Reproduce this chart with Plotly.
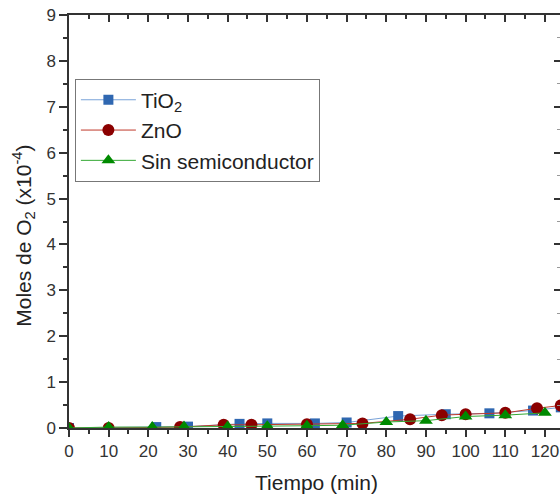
import plotly.graph_objects as go

# datos (moles de O2 x10^-4 vs tiempo)
tio2_t = [0, 22, 30, 43, 50, 62, 70, 83, 95, 106, 117, 124]
tio2_y = [0.0, 0.02, 0.03, 0.09, 0.1, 0.1, 0.12, 0.26, 0.3, 0.32, 0.38, 0.45]
zno_t = [0, 10, 28, 39, 46, 60, 74, 86, 94, 100, 110, 118, 124]
zno_y = [0.0, 0.0, 0.02, 0.07, 0.07, 0.08, 0.1, 0.19, 0.28, 0.3, 0.33, 0.43, 0.49]
sin_t = [0, 10, 21, 29, 40, 50, 60, 69, 80, 90, 100, 110, 120]
sin_y = [0.0, 0.02, 0.02, 0.03, 0.03, 0.04, 0.05, 0.06, 0.13, 0.16, 0.25, 0.28, 0.33]

x_ticks = list(range(0, 130, 10))
y_ticks = list(range(0, 10))

series = [
    ("TiO<sub>2</sub>", tio2_t, tio2_y, "square", "#2f67b1", "#7aa3d8", 10),
    ("ZnO", zno_t, zno_y, "circle", "#8b0000", "#c0392b", 12),
    ("Sin semiconductor", sin_t, sin_y, "triangle-up", "#008a00", "#33a833", 12),
]

fig = go.Figure()
for name, t, y, sym, mc, lc, ms in series:
    fig.add_trace(go.Scatter(
        x=t, y=y, name=name, mode="lines+markers",
        line=dict(color=lc, width=1),
        marker=dict(symbol=sym, size=ms, color=mc),
    ))

axis_font = dict(family="Arial, Liberation Sans", size=17, color="#333333")
title_font = dict(family="Arial, Liberation Sans", size=21, color="#222222")
xr = [0, 123.8]
yr = [0, 9]

fig.update_layout(
    width=560, height=495,
    margin=dict(l=69, r=0, t=15, b=67),
    plot_bgcolor="white", paper_bgcolor="white",
    font=axis_font,
    showlegend=True,
    legend=dict(
        x=0.012, y=0.846, xanchor="left", yanchor="top",
        bordercolor="#777777", borderwidth=1, bgcolor="white",
        font=dict(family="Arial, Liberation Sans", size=21, color="#222222"),
        itemwidth=55, tracegroupgap=0,
    ),
    xaxis=dict(
        range=xr, tickvals=x_ticks, ticks="outside", ticklen=7, tickwidth=1.5,
        tickcolor="#333333", showline=True, linecolor="#333333", linewidth=1.5,
        showgrid=False, zeroline=False, ticklabeloverflow="allow",
        minor=dict(dtick=5, ticks="outside", ticklen=4, tickwidth=1.5, tickcolor="#333333"),
    ),
    yaxis=dict(
        range=yr, tickvals=y_ticks, ticks="outside", ticklen=8, tickwidth=1.5,
        tickcolor="#333333", showline=True, linecolor="#333333", linewidth=1.5,
        showgrid=False, zeroline=False, ticklabeloverflow="allow",
        minor=dict(dtick=0.5, ticks="outside", ticklen=4, tickwidth=1.5, tickcolor="#333333"),
    ),
    xaxis2=dict(
        overlaying="x", side="top", range=xr, tickvals=x_ticks, ticks="inside",
        ticklen=7, tickwidth=1.5, tickcolor="#333333", showticklabels=False,
        showline=True, linecolor="#333333", linewidth=1.5, showgrid=False, zeroline=False,
        minor=dict(dtick=5, ticks="inside", ticklen=4, tickwidth=1.5, tickcolor="#333333"),
    ),
    yaxis2=dict(
        overlaying="y", side="right", range=yr, tickvals=y_ticks, ticks="inside",
        ticklen=6, tickwidth=1.5, tickcolor="#333333", showticklabels=False,
        showline=False, showgrid=False, zeroline=False,
        minor=dict(dtick=0.5, ticks="inside", ticklen=3, tickwidth=1, tickcolor="#999999"),
    ),
    annotations=[
        dict(text="Tiempo (min)", xref="paper", yref="paper", x=0.505, y=-0.1,
             xanchor="center", yanchor="top", showarrow=False, font=title_font),
        dict(text="Moles de O<sub>2</sub> (x10<sup>-4</sup>)", xref="paper", yref="paper",
             x=-0.092, y=0.465, textangle=-90, xanchor="center", yanchor="middle",
             showarrow=False, font=title_font),
    ],
)

# trazas invisibles para que se dibujen los ejes espejo
fig.add_trace(go.Scatter(x=[None], y=[None], xaxis="x2", yaxis="y2",
                         showlegend=False, hoverinfo="skip"))

# quitar el margen del body para que la figura ocupe toda la ventana
fig.write_html("out.html", config={"displayModeBar": False},
               post_script="document.body.style.margin='0';document.body.style.overflow='hidden';")
